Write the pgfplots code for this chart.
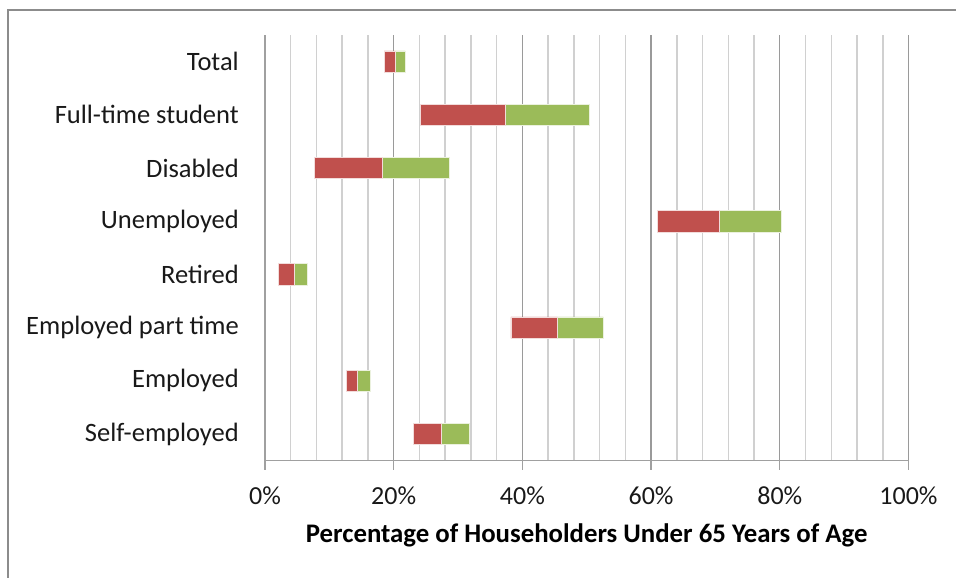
\documentclass[border=0pt]{standalone}
\usepackage{fontspec}
\setmainfont{Carlito}
\usepackage{pgfplots}
\pgfplotsset{compat=1.18}

\definecolor{barred}{HTML}{C0504D}
\definecolor{bargreen}{HTML}{9BBB59}
\definecolor{minorgrid}{HTML}{D0D0D0}
\definecolor{majorgrid}{HTML}{9A9A9A}
\definecolor{axisgray}{HTML}{A0A0A0}
\definecolor{framegray}{HTML}{8C8C8C}

\begin{document}
\begin{tikzpicture}
\useasboundingbox (0,0) rectangle (956pt,578pt);
% outer chart frame
\draw[framegray, line width=2pt] (8pt,-10pt) -- (8pt,568pt) -- (970pt,568pt);
\begin{axis}[
  at={(265pt,117.3pt)}, anchor=south west,
  scale only axis, width=643.5pt, height=425.7pt,
  xmin=0, xmax=100, ymin=-0.5, ymax=7.5,
  xbar stacked, bar width=21.4pt,
  axis x line*=bottom, axis y line*=left,
  axis line style={axisgray, line width=1.3pt},
  xtick={0,20,...,100},
  minor x tick num=4,
  xmajorgrids, xminorgrids,
  major grid style={majorgrid, line width=1.3pt},
  minor grid style={minorgrid, line width=1.5pt},
  tick align=outside,
  major tick length=9pt, minor tick length=0pt,
  x tick style={axisgray, line width=1.3pt},
  xticklabel={\pgfmathprintnumber{\tick}\%},
  /pgf/number format/assume math mode=true,
  xticklabel style={font=\fontsize{26pt}{31pt}\selectfont, text=black!90, yshift=-14pt},
  ytick={0,...,7},
  yticklabels={Self-employed, Employed, Employed part time, Retired, Unemployed, Disabled, Full-time student, Total},
  y tick style={draw=none},
  yticklabel style={font=\fontsize{26.5pt}{32pt}\selectfont, text=black!90, inner sep=0pt, anchor=east, xshift=-17pt},
  extra y ticks={-0.5,0.5,...,7.5},
  extra y tick labels={},
  extra y tick style={grid=none, tick style={draw=axisgray, line width=1.3pt}},
  xlabel={\textbf{Percentage of Householders Under 65 Years of Age}},
  xlabel style={font=\fontsize{26.8pt}{32pt}\selectfont, at={(axis description cs:0.5,0)}, anchor=center, yshift=-75pt},
  clip=false,
]
% invisible offset to the lower end of each bar
\addplot[draw=none, fill=none, forget plot] coordinates {
  (23.0,0) (12.6,1) (38.2,2) (2.1,3) (61.0,4) (7.7,5) (24.2,6) (18.5,7)};
% lower end to estimate
\addplot[fill=barred, draw=white!80!barred, line width=0.6pt] coordinates {
  (4.4,0) (1.8,1) (7.2,2) (2.4,3) (9.6,4) (10.5,5) (13.1,6) (1.7,7)};
% estimate to upper end
\addplot[fill=bargreen, draw=white!80!bargreen, line width=0.6pt] coordinates {
  (4.3,0) (2.0,1) (7.2,2) (2.1,3) (9.6,4) (10.4,5) (13.1,6) (1.6,7)};
\end{axis}
\end{tikzpicture}
\end{document}
